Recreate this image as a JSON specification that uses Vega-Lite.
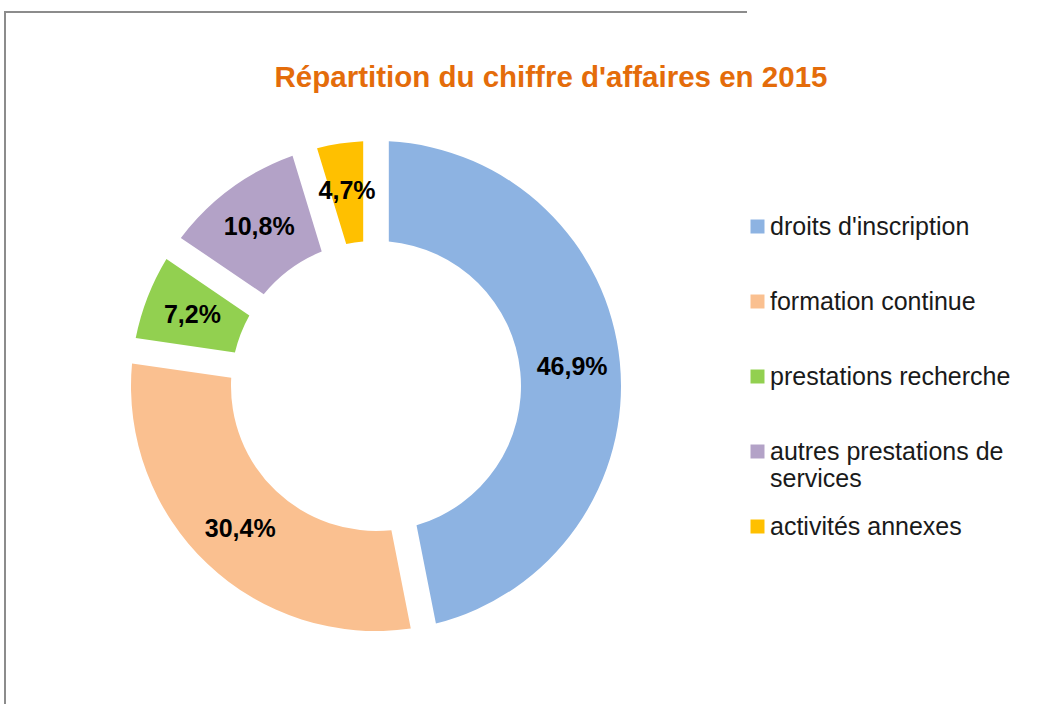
{
  "$schema": "https://vega.github.io/schema/vega-lite/v6.json",
  "autosize": "none",
  "width": 742,
  "height": 748,
  "padding": {"left": 5, "top": 12, "right": 293, "bottom": 0},
  "background": "white",
  "view": {"stroke": "#8c8c8c", "strokeWidth": 2, "strokeDash": [742, 1490, 748]},
  "config": {
    "font": "Liberation Sans"
  },
  "title": {
    "text": "Répartition du chiffre d'affaires en 2015",
    "color": "#E46C0A",
    "fontSize": 29.5,
    "fontWeight": "bold",
    "font": "Liberation Sans",
    "anchor": "middle",
    "dx": 175,
    "dy": 85
  },
  "data": {
    "values": [
      {"poste": "droits d'inscription", "part": 46.9, "label": "46,9%", "ordre": 1},
      {"poste": "formation continue", "part": 30.4, "label": "30,4%", "ordre": 2},
      {"poste": "prestations recherche", "part": 7.2, "label": "7,2%", "ordre": 3},
      {"poste": "autres prestations de services", "part": 10.8, "label": "10,8%", "ordre": 4},
      {"poste": "activités annexes", "part": 4.7, "label": "4,7%", "ordre": 5}
    ]
  },
  "encoding": {
    "theta": {"field": "part", "type": "quantitative", "stack": true},
    "order": {"field": "ordre", "type": "quantitative"}
  },
  "layer": [
    {
      "mark": {"type": "arc", "innerRadius": 145, "outerRadius": 245, "padAngle": 0.09},
      "encoding": {
        "color": {
          "field": "poste",
          "type": "nominal",
          "scale": {
            "domain": ["droits d'inscription", "formation continue", "prestations recherche", "autres prestations de services", "activités annexes"],
            "range": ["#8DB3E2", "#FAC090", "#92D050", "#B3A2C7", "#FFC000"]
          },
          "legend": {
            "orient": "none",
            "legendX": 740,
            "legendY": 202,
            "title": null,
            "padding": 0,
            "gridAlign": "all",
            "symbolType": "square",
            "symbolSize": 196,
            "symbolStrokeWidth": 0,
            "labelFontSize": 25,
            "labelFont": "Liberation Sans",
            "labelColor": "#1a1a1a",
            "labelOffset": 0,
            "labelLimit": 400,
            "rowPadding": 22,
            "labelExpr": "datum.label == 'autres prestations de services' ? ['autres prestations de', 'services'] : datum.label"
          }
        }
      }
    },
    {
      "mark": {"type": "text", "radius": 197, "fontSize": 25, "fontWeight": "bold", "color": "#000000", "font": "Liberation Sans"},
      "encoding": {
        "text": {"field": "label", "type": "nominal"}
      }
    }
  ]
}
